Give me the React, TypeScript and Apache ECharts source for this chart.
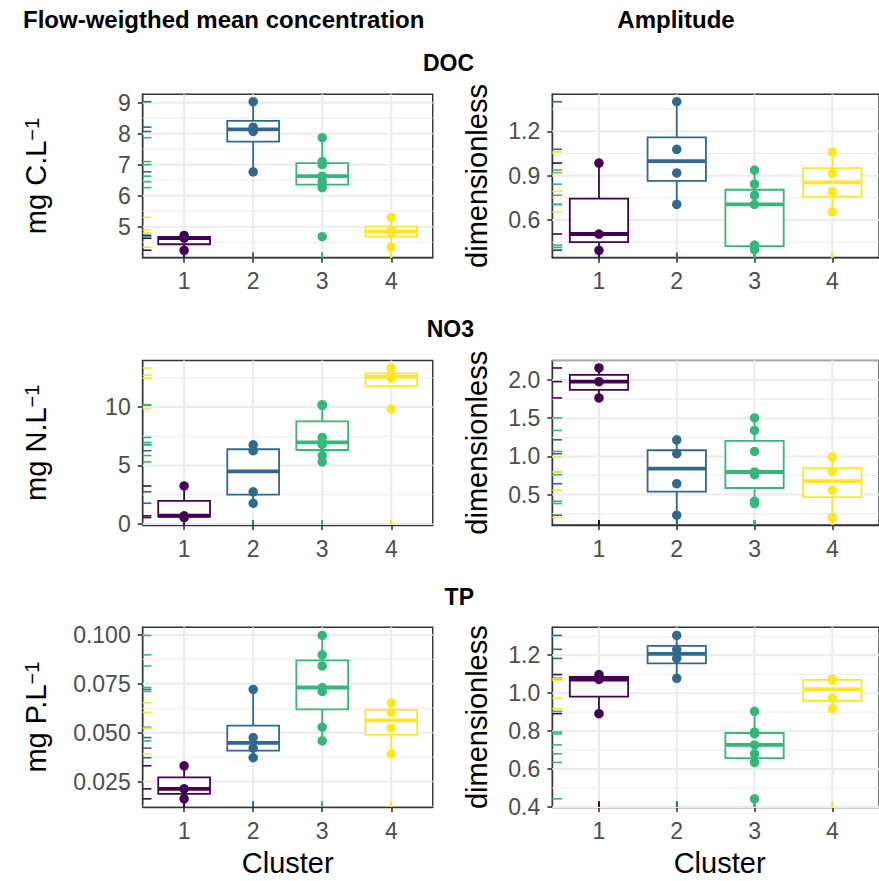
import { useEffect, useRef } from "react";
import * as echarts from "echarts";

// ---------------- data ----------------
const clusters = [1, 2, 3, 4];
const clusterColors = ["#440154", "#31688E", "#35B779", "#FDE725"];

// values per cluster (cluster 1..4)
const docMean = [
  [4.24, 4.63, 4.72],
  [6.77, 8.07, 8.21, 9.03],
  [4.68, 6.26, 6.45, 6.63, 7.0, 7.1, 7.87],
  [4.34, 4.79, 4.9, 5.3],
];
const docAmp = [
  [0.395, 0.505, 0.985],
  [0.705, 0.918, 1.078, 1.4],
  [0.4, 0.415, 0.43, 0.705, 0.767, 0.842, 0.938],
  [0.655, 0.793, 0.915, 1.06],
];
const no3Mean = [
  [0.55, 0.7, 3.25],
  [1.77, 2.75, 6.26, 6.77],
  [5.3, 5.85, 6.8, 6.97, 7.4, 10.15, 10.2],
  [9.83, 12.45, 12.72, 13.34],
];
const no3Amp = [
  [1.765, 1.978, 2.157],
  [0.23, 0.643, 1.035, 1.217],
  [0.383, 0.413, 0.76, 0.796, 1.065, 1.339, 1.504],
  [0.2, 0.557, 0.796, 0.991],
];
const tpMean = [
  [0.0162, 0.0213, 0.0331],
  [0.0372, 0.0421, 0.0475, 0.0721],
  [0.0458, 0.0528, 0.0711, 0.0731, 0.0841, 0.0898, 0.0997],
  [0.0392, 0.0523, 0.0604, 0.0653],
];
const tpAmp = [
  [0.892, 1.072, 1.098],
  [1.078, 1.183, 1.231, 1.304],
  [0.443, 0.635, 0.68, 0.727, 0.785, 0.795, 0.904],
  [0.918, 0.974, 1.068, 1.075],
];

// tick labels (breaks)
const docMeanBreaks = [5, 6, 7, 8, 9];
const docAmpBreaks = [0.6, 0.9, 1.2];
const no3MeanBreaks = [0, 5, 10];
const no3AmpBreaks = [0.5, 1.0, 1.5, 2.0];
const tpMeanBreaks = [0.025, 0.05, 0.075, 0.1];
const tpAmpBreaks = [0.4, 0.6, 0.8, 1.0, 1.2];

const columnTitles = ["Flow-weigthed mean concentration", "Amplitude"];
const rowTitles = ["DOC", "NO3", "TP"];
const yTitlesLeft = ["mg C.L", "mg N.L", "mg P.L"];
const yTitleRight = "dimensionless";
const xTitle = "Cluster";

// ---------------- layout / style ----------------
const LEFT_X = 142.7;
const LEFT_W = 290;
const RIGHT_X = 552.3;
const RIGHT_W = 334.6;
const ROWS = [
  { top: 94.3, height: 163.4 },
  { top: 360.5, height: 164.5 },
  { top: 627.3, height: 179.7 },
];
const FONT = "Liberation Sans";
const TICK_COLOR = "#4d4d4d";
const AXIS_COLOR = "#333333";
const GRID_COLOR = "#ebebeb";
const TICK_FONT = 23;

const panels = [
  { values: docMean, breaks: docMeanBreaks, dec: 0, row: 0, col: 0 },
  { values: docAmp, breaks: docAmpBreaks, dec: 1, row: 0, col: 1 },
  { values: no3Mean, breaks: no3MeanBreaks, dec: 0, row: 1, col: 0 },
  { values: no3Amp, breaks: no3AmpBreaks, dec: 1, row: 1, col: 1 },
  { values: tpMean, breaks: tpMeanBreaks, dec: 3, row: 2, col: 0 },
  { values: tpAmp, breaks: tpAmpBreaks, dec: 1, row: 2, col: 1 },
];

function quantile(s: number[], p: number) {
  const h = (s.length - 1) * p;
  const lo = Math.floor(h);
  const hi = Math.ceil(h);
  return s[lo] + (h - lo) * (s[hi] - s[lo]);
}

function boxStats(vals: number[]) {
  const s = [...vals].sort((a, b) => a - b);
  const q1 = quantile(s, 0.25);
  const med = quantile(s, 0.5);
  const q3 = quantile(s, 0.75);
  const iqr = q3 - q1;
  const lowW = Math.min(...s.filter((v) => v >= q1 - 1.5 * iqr));
  const highW = Math.max(...s.filter((v) => v <= q3 + 1.5 * iqr));
  return [lowW, q1, med, q3, highW];
}

function buildOption() {
  const grid: any[] = [];
  const xAxis: any[] = [];
  const yAxis: any[] = [];
  const series: any[] = [];

  panels.forEach((p, i) => {
    const all = p.values.flat();
    const dmin = Math.min(...all);
    const dmax = Math.max(...all);
    const pad = 0.05 * (dmax - dmin);
    const ymin = dmin - pad;
    const ymax = dmax + pad;
    const step = p.breaks[1] - p.breaks[0];
    const minors = [p.breaks[0] - step / 2, ...p.breaks.map((b) => b + step / 2)].filter(
      (v) => v > ymin && v < ymax
    );

    const r = ROWS[p.row];
    grid.push({
      left: p.col === 0 ? LEFT_X : RIGHT_X,
      top: r.top,
      width: p.col === 0 ? LEFT_W : RIGHT_W,
      height: r.height,
      show: true,
      borderColor: AXIS_COLOR,
      borderWidth: 1.4,
      backgroundColor: "transparent",
    });
    xAxis.push({
      type: "value",
      gridIndex: i,
      min: 0.4,
      max: 4.6,
      axisLine: { show: true, onZero: false, lineStyle: { color: AXIS_COLOR, width: 1.4 } },
      axisTick: { show: true, customValues: clusters, length: 5, lineStyle: { color: AXIS_COLOR, width: 1.6 } },
      axisLabel: {
        customValues: clusters,
        color: TICK_COLOR,
        fontSize: TICK_FONT,
        fontFamily: FONT,
        margin: 12,
        formatter: (v: number) => String(v),
      },
      splitLine: { show: false },
    });
    yAxis.push({
      type: "value",
      gridIndex: i,
      min: ymin,
      max: ymax,
      axisLine: { show: true, onZero: false, lineStyle: { color: AXIS_COLOR, width: 1.4 } },
      axisTick: { show: true, customValues: p.breaks, length: 5, lineStyle: { color: AXIS_COLOR, width: 1.6 } },
      axisLabel: {
        customValues: p.breaks,
        color: TICK_COLOR,
        fontSize: TICK_FONT,
        fontFamily: FONT,
        margin: 12,
        formatter: (v: number) => v.toFixed(p.dec),
      },
      splitLine: { show: false },
    });

    // grid lines (panel background)
    const gridData: number[][] = [
      ...p.breaks.filter((b) => b > ymin && b < ymax).map((b) => [1, b, 0]),
      ...minors.map((b) => [1, b, 1]),
      ...clusters.map((c) => [c, ymin, 2]),
    ];
    series.push({
      type: "custom",
      xAxisIndex: i,
      yAxisIndex: i,
      z: 1,
      silent: true,
      data: gridData,
      renderItem: (params: any, api: any) => {
        const cs = params.coordSys;
        const kind = api.value(2);
        if (kind === 2) {
          const px = api.coord([api.value(0), api.value(1)])[0];
          return {
            type: "line",
            shape: { x1: px, y1: cs.y, x2: px, y2: cs.y + cs.height },
            style: { stroke: GRID_COLOR, lineWidth: 2 },
          };
        }
        const py = api.coord([api.value(0), api.value(1)])[1];
        return {
          type: "line",
          shape: { x1: cs.x, y1: py, x2: cs.x + cs.width, y2: py },
          style: { stroke: GRID_COLOR, lineWidth: kind === 0 ? 2 : 1 },
        };
      },
    });

    // rugs
    const rugData: number[][] = [];
    p.values.forEach((vals, ci) => vals.forEach((v) => rugData.push([clusters[ci], v, ci])));
    series.push({
      type: "custom",
      xAxisIndex: i,
      yAxisIndex: i,
      z: 2,
      silent: true,
      data: rugData,
      renderItem: (params: any, api: any) => {
        const cs = params.coordSys;
        const pt = api.coord([api.value(0), api.value(1)]);
        const col = clusterColors[api.value(2)];
        const bottom = cs.y + cs.height;
        return {
          type: "group",
          children: [
            {
              type: "line",
              shape: { x1: cs.x, y1: pt[1], x2: cs.x + 0.03 * cs.width, y2: pt[1] },
              style: { stroke: col, lineWidth: 1.6 },
            },
            {
              type: "line",
              shape: { x1: pt[0], y1: bottom, x2: pt[0], y2: bottom - 0.03 * cs.height },
              style: { stroke: col, lineWidth: 1.6 },
            },
          ],
        };
      },
    });

    // boxes
    const boxData = p.values.map((vals, ci) => [clusters[ci], ...boxStats(vals), ci]);
    series.push({
      type: "custom",
      xAxisIndex: i,
      yAxisIndex: i,
      z: 3,
      silent: true,
      data: boxData,
      renderItem: (params: any, api: any) => {
        const x = api.value(0);
        const col = clusterColors[api.value(6)];
        const cx = api.coord([x, api.value(3)])[0];
        const yl = api.coord([x, api.value(1)])[1];
        const y1 = api.coord([x, api.value(2)])[1];
        const ym = api.coord([x, api.value(3)])[1];
        const y3 = api.coord([x, api.value(4)])[1];
        const yh = api.coord([x, api.value(5)])[1];
        const half = api.size([0.75, 0])[0] / 2;
        return {
          type: "group",
          children: [
            { type: "line", shape: { x1: cx, y1: yh, x2: cx, y2: y3 }, style: { stroke: col, lineWidth: 1.8 } },
            { type: "line", shape: { x1: cx, y1: y1, x2: cx, y2: yl }, style: { stroke: col, lineWidth: 1.8 } },
            {
              type: "rect",
              shape: { x: cx - half, y: y3, width: 2 * half, height: y1 - y3 },
              style: { fill: "#ffffff", stroke: col, lineWidth: 1.8 },
            },
            {
              type: "line",
              shape: { x1: cx - half, y1: ym, x2: cx + half, y2: ym },
              style: { stroke: col, lineWidth: 3.8 },
            },
          ],
        };
      },
    });

    // points
    series.push({
      type: "scatter",
      xAxisIndex: i,
      yAxisIndex: i,
      z: 4,
      silent: true,
      symbolSize: 9.5,
      data: rugData.map((d) => [d[0], d[1], d[2]]),
      itemStyle: { color: (prm: any) => clusterColors[prm.data[2]], opacity: 1 },
    });
  });

  const titleFont = `bold 24px "${FONT}"`;
  const rowFont = `bold 23px "${FONT}"`;
  const graphic: any[] = [
    { type: "text", x: 23, y: 19.5, style: { text: columnTitles[0], font: titleFont, fill: "#000", align: "left", verticalAlign: "middle" } },
    { type: "text", x: 676, y: 19.5, style: { text: columnTitles[1], font: titleFont, fill: "#000", align: "center", verticalAlign: "middle" } },
  ];
  const rowTitleY = [62.5, 328.7, 597];
  rowTitles.forEach((t, k) => {
    graphic.push({
      type: "text",
      x: 474,
      y: rowTitleY[k],
      style: { text: t, font: rowFont, fill: "#000", align: "right", verticalAlign: "middle" },
    });
  });
  ROWS.forEach((r, k) => {
    const cy = r.top + r.height / 2;
    graphic.push({
      type: "text",
      x: 36,
      y: cy,
      rotation: Math.PI / 2,
      style: {
        text: `{a|${yTitlesLeft[k]}}{b|−1}`,
        align: "center",
        verticalAlign: "middle",
        rich: {
          a: { fontSize: 29, fontFamily: FONT, fill: "#000" },
          b: { fontSize: 20, fontFamily: FONT, fill: "#000", verticalAlign: "top" },
        },
      },
    });
    graphic.push({
      type: "text",
      x: 477,
      y: cy,
      rotation: Math.PI / 2,
      style: { text: yTitleRight, font: `29px "${FONT}"`, fill: "#000", align: "center", verticalAlign: "middle" },
    });
  });
  [LEFT_X + LEFT_W / 2, RIGHT_X + RIGHT_W / 2].forEach((cx) => {
    graphic.push({
      type: "text",
      x: cx,
      y: 863,
      style: { text: xTitle, font: `29px "${FONT}"`, fill: "#000", align: "center", verticalAlign: "middle" },
    });
  });

  return {
    animation: false,
    backgroundColor: "#ffffff",
    textStyle: { fontFamily: FONT },
    grid,
    xAxis,
    yAxis,
    series,
    graphic,
  };
}

export default function App() {
  const ref = useRef<HTMLDivElement>(null);
  useEffect(() => {
    document.body.style.margin = "0";
    if (!ref.current) return;
    const chart = echarts.init(ref.current, undefined, { renderer: "svg" });
    chart.setOption(buildOption() as any);
    return () => chart.dispose();
  }, []);
  return (
    <div
      ref={ref}
      style={{ position: "absolute", left: 0, top: 0, width: 879, height: 881, overflow: "hidden" }}
    />
  );
}
